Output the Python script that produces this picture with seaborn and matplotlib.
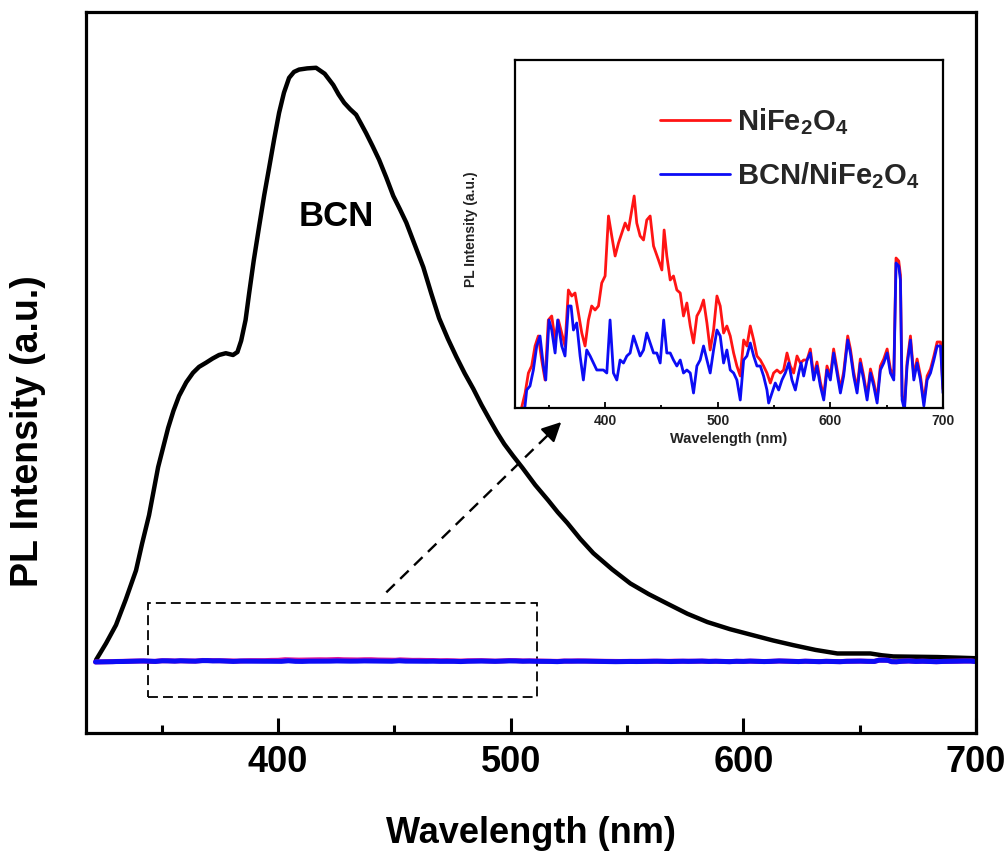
import numpy as np
import matplotlib
matplotlib.use("Agg")
import matplotlib.pyplot as plt
import seaborn as sns
from matplotlib.patches import Rectangle
from matplotlib import font_manager as fm

# ---------------- data ----------------
# BCN emission (main panel, normalised to peak = 1)
wl_bcn = [321.7, 326.0, 330.3, 334.5, 338.9, 341.5, 344.5, 348.4, 352.7, 355.0,
          357.4, 360.5, 363.4, 366.0, 369.0, 371.8, 374.6, 377.5, 380.6, 382.5,
          384.1, 386.0, 387.5, 389.5, 391.8, 394.0, 396.1, 398.3, 400.4, 402.5,
          404.7, 406.8, 409.0, 412.5, 416.3, 420.0, 423.7, 426.0, 428.4, 431.0,
          433.5, 435.6, 437.8, 440.6, 443.4, 446.5, 449.5, 452.3, 455.1, 458.7,
          462.4, 465.8, 469.2, 473.0, 476.6, 480.2, 483.9, 487.4, 490.8, 494.0,
          497.2, 501.0, 505.0, 510.5, 516.1, 520.2, 524.3, 529.9, 535.5, 543.5,
          551.4, 559.3, 567.3, 575.9, 584.5, 594.2, 603.9, 612.7, 621.5, 631.0,
          640.4, 647.5, 654.6, 659.5, 664.5, 674.0, 683.4, 692.0, 700.0]
int_bcn = [0.002, 0.030, 0.061, 0.104, 0.153, 0.198, 0.246, 0.327, 0.393, 0.422,
           0.447, 0.470, 0.486, 0.496, 0.503, 0.510, 0.516, 0.519, 0.516, 0.521,
           0.540, 0.575, 0.619, 0.675, 0.732, 0.785, 0.831, 0.880, 0.924, 0.958,
           0.983, 0.993, 0.997, 0.999, 1.000, 0.990, 0.971, 0.955, 0.941, 0.930,
           0.921, 0.906, 0.890, 0.868, 0.845, 0.815, 0.784, 0.762, 0.739, 0.702,
           0.664, 0.620, 0.578, 0.543, 0.513, 0.485, 0.459, 0.432, 0.408, 0.386,
           0.366, 0.346, 0.326, 0.297, 0.271, 0.251, 0.233, 0.206, 0.182, 0.155,
           0.131, 0.113, 0.097, 0.080, 0.066, 0.054, 0.044, 0.035, 0.027, 0.019,
           0.013, 0.013, 0.013, 0.010, 0.008, 0.0075, 0.007, 0.006, 0.005]

# NiFe2O4 emission (inset units)
wl_red = [321.5, 329.0, 331.9, 334.8, 337.8, 340.7, 343.7, 346.7, 349.6, 352.6,
          355.6, 358.5, 361.5, 364.4, 367.4, 370.4, 373.3, 376.3, 379.3, 382.2,
          385.2, 388.1, 391.1, 394.1, 397.0, 400.0, 403.0, 405.9, 408.9, 411.9,
          414.8, 417.8, 420.7, 423.7, 425.8, 428.1, 431.1, 434.1, 437.0, 440.0,
          443.0, 447.4, 450.4, 452.4, 454.8, 457.8, 460.7, 463.7, 466.7, 469.6,
          472.6, 475.6, 478.5, 481.5, 484.4, 487.4, 490.4, 493.3, 496.3, 499.3,
          502.2, 505.2, 508.1, 511.1, 514.1, 517.0, 520.0, 523.0, 525.9, 528.9,
          531.9, 534.8, 537.8, 540.7, 543.7, 546.7, 549.6, 552.6, 555.6, 558.5,
          561.5, 564.4, 567.4, 570.4, 573.3, 576.3, 579.3, 582.2, 585.2, 588.1,
          591.1, 594.1, 597.0, 600.0, 602.9, 605.9, 608.9, 611.8, 615.4, 617.8,
          620.7, 623.7, 626.6, 629.6, 632.6, 635.6, 638.5, 641.5, 644.4, 647.4,
          650.4, 653.3, 656.3, 658.3, 660.7, 662.2, 663.7, 665.8, 668.1, 671.1,
          674.1, 677.0, 680.0, 683.0, 685.9, 688.9, 691.9, 694.8, 697.8, 700.0]
int_red = [-20, 15, 35, 42, 62, 72, 48, 28, 88, 92,
           68, 88, 75, 62, 118, 112, 115, 95, 75, 62,
           88, 102, 98, 102, 125, 132, 192, 172, 152, 165,
           175, 185, 178, 198, 212, 185, 172, 168, 188, 192,
           162, 148, 138, 178, 152, 128, 132, 118, 115, 92,
           105, 82, 65, 92, 98, 108, 85, 58, 78, 112,
           102, 75, 82, 72, 55, 42, 32, 68, 62, 82,
           68, 52, 48, 42, 35, 25, 35, 38, 35, 38,
           55, 42, 35, 52, 45, 48, 48, 59, 32, 46,
           26, 12, 42, 32, 59, 39, 19, 36, 72, 59,
           36, 19, 49, 32, 12, 39, 26, 9, 42, 49,
           59, 39, 32, 150, 147, 133, 12, 2, 46, 72,
           32, 49, 32, 6, 32, 39, 52, 66, 66, 19]

# BCN/NiFe2O4 emission (inset units)
wl_blue = [321.5, 328.9, 330.4, 333.3, 336.3, 339.3, 342.2, 345.2, 347.3, 350.2,
           352.6, 355.6, 357.9, 361.5, 364.4, 367.4, 369.8, 371.9, 374.8, 377.8,
           380.7, 383.7, 386.7, 389.6, 392.6, 395.6, 398.5, 401.5, 404.4, 407.4,
           410.4, 413.3, 416.3, 419.3, 422.2, 425.2, 428.1, 431.1, 434.1, 437.0,
           440.0, 443.0, 445.9, 448.9, 452.0, 454.8, 457.8, 460.7, 463.7, 466.7,
           469.6, 472.6, 475.6, 478.5, 481.5, 484.4, 487.4, 490.4, 493.3, 496.3,
           499.3, 502.2, 505.2, 508.1, 511.1, 514.1, 517.0, 520.0, 523.0, 525.9,
           528.9, 531.9, 534.8, 537.8, 540.7, 543.7, 545.2, 548.1, 551.1, 554.1,
           557.0, 560.0, 563.0, 565.9, 568.9, 571.9, 574.0, 576.3, 579.3, 582.2,
           585.2, 588.1, 591.1, 594.1, 597.0, 600.0, 602.9, 605.9, 608.9, 611.8,
           615.4, 617.8, 620.7, 623.7, 626.6, 629.6, 632.6, 635.6, 638.5, 641.5,
           644.4, 647.4, 650.4, 653.3, 656.3, 658.3, 660.7, 662.2, 663.7, 665.8,
           668.1, 671.1, 674.1, 677.0, 680.0, 683.0, 685.9, 688.9, 691.9, 694.8,
           697.8, 700.0]
int_blue = [-20, 2, 18, 22, 38, 62, 72, 42, 28, 88,
            78, 55, 88, 62, 52, 102, 102, 78, 85, 52,
            28, 58, 52, 45, 38, 38, 38, 35, 88, 35,
            28, 48, 45, 52, 55, 72, 62, 52, 58, 75,
            65, 55, 55, 45, 88, 55, 55, 48, 42, 48,
            35, 38, 35, 15, 42, 48, 62, 48, 35, 58,
            78, 72, 45, 58, 38, 35, 28, 8, 48, 52,
            65, 52, 42, 42, 32, 18, 5, 15, 25, 18,
            28, 35, 45, 28, 18, 35, 45, 32, 48, 55,
            28, 42, 22, 8, 38, 28, 55, 35, 15, 32,
            68, 55, 32, 15, 45, 28, 8, 35, 22, 5,
            38, 45, 55, 35, 28, 145, 142, 128, 8, -2,
            42, 68, 28, 45, 28, 2, 28, 35, 48, 62,
            62, 15]

xticks_major = [400, 500, 600, 700]
xticks_minor = [350, 450, 550, 650]
legend_labels = [r"NiFe$_\mathbf{2}$O$_\mathbf{4}$", r"BCN/NiFe$_\mathbf{2}$O$_\mathbf{4}$"]

# scale used to place the weak samples on the main axis (they sit at the baseline)
MAIN_SCALE = 1.8e-5
MAIN_OFFSET = -0.0009

RED = "#ff1414"
BLUE = "#0c0cf5"

# ---------------- style ----------------
sns.set_style("white")
names = {f.name for f in fm.fontManager.ttflist}
NARROW = "Liberation Sans Narrow" if "Liberation Sans Narrow" in names else "Liberation Sans"
plt.rcParams["font.family"] = ["Liberation Sans", "DejaVu Sans"]
plt.rcParams["mathtext.fontset"] = "custom"
plt.rcParams["mathtext.rm"] = "Liberation Sans:bold"
plt.rcParams["mathtext.bf"] = "Liberation Sans:bold"
plt.rcParams["mathtext.it"] = "Liberation Sans:bold"

W, H = 1008, 860
fig = plt.figure(figsize=(W / 100, H / 100), dpi=100)
fig.patch.set_facecolor("white")

# ---------------- main axes ----------------
L, R, T, B = 86, 976, 12, 733
ax = fig.add_axes([L / W, 1 - B / H, (R - L) / W, (B - T) / H])
ax.set_facecolor("white")

sns.lineplot(x=wl_bcn, y=int_bcn, ax=ax, color="black", lw=3.2,
             estimator=None, sort=False, legend=False)
sns.lineplot(x=wl_red, y=np.array(int_red) * MAIN_SCALE + MAIN_OFFSET, ax=ax,
             color="#e0189a", lw=3.6, estimator=None, sort=False, legend=False)
sns.lineplot(x=wl_blue, y=np.array(int_blue) * MAIN_SCALE + MAIN_OFFSET, ax=ax,
             color=BLUE, lw=3.6, estimator=None, sort=False, legend=False)

ax.set_xlim(317.4, 700)
ax.set_ylim(-0.121, 1.094)
ax.set_yticks([])
ax.set_xticks(xticks_major, labels=[str(v) for v in xticks_major],
              fontsize=26, fontweight="bold", fontfamily=NARROW)
ax.set_xticks(xticks_minor, minor=True)
ax.tick_params(axis="x", which="major", direction="in", length=11, width=2.2,
               pad=9, color="black", bottom=True, top=False, labelcolor="black")
ax.tick_params(axis="x", which="minor", direction="in", length=6, width=2.2,
               color="black", bottom=True, top=False)
for s in ax.spines.values():
    s.set_color("black")
    s.set_linewidth(2.3)

ax.set_xlabel("Wavelength (nm)", fontsize=26, fontweight="bold", color="black")
ax.xaxis.set_label_coords(0.5, (B - 816) / (B - T))
ax.set_ylabel("PL Intensity (a.u.)", fontsize=27, fontweight="bold", color="black")
ax.yaxis.set_label_coords((46 - L) / (R - L), (B - 431) / (B - T))

ax.text(425.0, 0.749, "BCN", fontsize=25, fontweight="bold", fontfamily=NARROW,
        ha="center", va="center", color="black")

# dashed zoom box
ax.add_patch(Rectangle((344.1, -0.061), 511.4 - 344.1, 0.098 + 0.061, fill=False,
                       ec="black", lw=1.3, ls=(0, (5.5, 2.8)), zorder=1))
# dashed arrow towards the inset
ax.plot([446.5, 516.5], [0.116, 0.383], color="black", lw=1.7,
        ls=(0, (5.0, 3.2)), zorder=2)
ax.annotate("", xy=(521.7, 0.403), xytext=(516.5, 0.383),
            arrowprops=dict(arrowstyle="-|>,head_length=0.9,head_width=0.45",
                            color="black", lw=1.6, mutation_scale=13,
                            shrinkA=0, shrinkB=0))

# ---------------- inset axes ----------------
iL, iR, iT, iB = 515, 943, 60, 408
axin = fig.add_axes([iL / W, 1 - iB / H, (iR - iL) / W, (iB - iT) / H])
axin.set_facecolor("white")
sns.lineplot(x=wl_red, y=int_red, ax=axin, color=RED, lw=2.0,
             estimator=None, sort=False, legend=False)
sns.lineplot(x=wl_blue, y=int_blue, ax=axin, color=BLUE, lw=2.0,
             estimator=None, sort=False, legend=False)
axin.set_xlim(320, 700)
axin.set_ylim(0, 348)
axin.set_yticks([])
axin.set_xticks(xticks_major, labels=[str(v) for v in xticks_major],
                fontsize=10, fontweight="bold")
axin.set_xticks(xticks_minor, minor=True)
axin.tick_params(axis="x", which="major", direction="in", length=4, width=1.3,
                 pad=4, color="black", bottom=True, top=False, labelcolor="#222222")
axin.tick_params(axis="x", which="minor", direction="in", length=2.5, width=1.3,
                 color="black", bottom=True, top=False)
for s in axin.spines.values():
    s.set_color("black")
    s.set_linewidth(1.6)
axin.set_xlabel("Wavelength (nm)", fontsize=10.5, fontweight="bold", color="#222222")
axin.xaxis.set_label_coords(0.5, (iB - 432) / (iB - iT))
axin.set_ylabel("PL Intensity (a.u.)", fontsize=10, fontweight="bold", color="#222222")
axin.yaxis.set_label_coords((478 - iL) / (iR - iL), (iB - 229) / (iB - iT))

axin.legend(handles=axin.lines[:2], labels=legend_labels, loc="upper left",
            bbox_to_anchor=((660 - iL) / (iR - iL), (iB - 106) / (iB - iT)),
            frameon=False, prop=dict(size=21, weight="bold"),
            handlelength=2.4, handletextpad=0.25, labelspacing=0.8,
            borderaxespad=0, borderpad=0)

fig.savefig("out.png", dpi=100, facecolor="white")
